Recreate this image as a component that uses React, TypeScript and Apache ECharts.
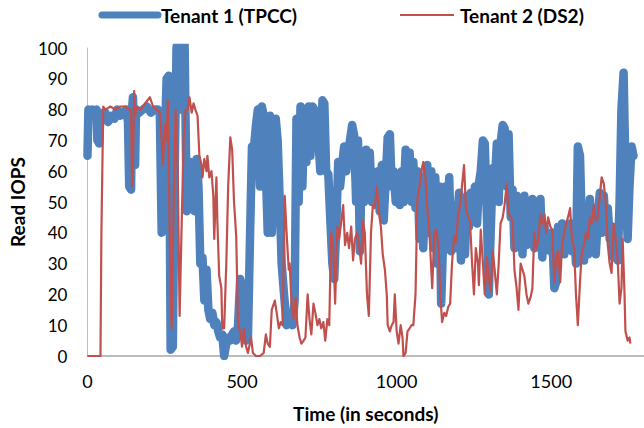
import React, { useEffect, useRef } from "react";
import * as echarts from "echarts";

const xTicks = [0, 500, 1000, 1500];
const yTicks = [0, 10, 20, 30, 40, 50, 60, 70, 80, 90, 100];
const seriesNames = ["Tenant 1 (TPCC)", "Tenant 2 (DS2)"];

const t1Time = [0,3,10,16,22,29,32,38,42,51,58,67,77,87,96,106,115,125,131,135,141,144,147,154,157,167,179,192,205,218,228,234,240,247,250,256,263,266,269,276,282,288,295,301,308,314,321,327,333,340,346,353,359,365,372,378,385,391,397,404,410,417,423,429,436,442,449,455,462,468,474,481,487,494,500,506,513,519,526,532,538,545,551,558,564,570,577,583,590,596,603,609,615,622,628,635,644,654,663,670,676,683,689,695,702,708,715,721,728,734,740,747,753,760,766,772,779,785,792,798,804,811,817,824,830,837,843,849,856,862,869,875,881,888,894,901,907,913,920,926,933,939,945,952,958,965,971,978,984,990,997,1003,1010,1016,1022,1029,1035,1042,1048,1054,1061,1067,1074,1080,1086,1093,1099,1106,1112,1119,1125,1131,1138,1144,1151,1157,1163,1170,1176,1183,1189,1195,1202,1208,1215,1221,1228,1234,1240,1247,1253,1260,1266,1272,1279,1285,1292,1298,1304,1311,1317,1324,1330,1336,1343,1349,1356,1362,1369,1375,1381,1388,1394,1401,1407,1413,1420,1426,1433,1439,1445,1452,1458,1465,1471,1478,1484,1490,1497,1503,1510,1516,1522,1529,1535,1542,1548,1554,1561,1567,1574,1580,1586,1593,1599,1606,1612,1619,1625,1631,1638,1644,1651,1657,1663,1670,1676,1683,1689,1695,1702,1708,1715,1721,1727,1734,1740,1747,1753,1760,1766];
const t1Iops = [65,80,78,80,79,80,70,69,79,77,79,76,78,77,80,78,79,80,76,55,54,80,84,62,80,79,80,81,79,80,80,79,40,42,70,90,91,50,2,3,60,100,104,80,105,102,47,50,63,62,47,64,55,30,32,18,28,15,12,14,10,11,8,6,7,0,4,6,5,7,8,5,10,25,22,8,5,6,40,68,67,75,80,55,81,78,60,40,78,40,60,77,70,50,30,21,10,12,10,18,77,50,81,55,80,63,81,65,81,80,72,70,60,83,82,60,59,45,30,25,40,63,55,62,68,60,66,70,75,72,50,70,34,65,50,67,52,66,50,58,52,60,47,62,44,58,71,72,55,60,50,58,49,60,50,67,52,66,50,63,48,60,38,58,35,55,62,40,60,35,58,30,55,17,40,55,35,58,34,45,35,44,53,31,50,33,52,42,53,44,55,43,56,60,70,69,45,20,40,61,55,69,50,69,75,74,55,72,45,54,35,52,38,50,33,52,36,48,40,51,35,50,38,51,32,42,35,40,34,40,22,24,42,35,43,33,42,35,43,34,42,30,68,65,42,31,42,33,51,40,48,33,45,53,40,52,42,48,38,42,32,40,31,50,80,92,60,38,55,68,65];

const t2Time = [0,42,45,51,58,74,90,106,122,135,141,144,147,151,154,160,173,186,202,212,224,234,240,244,250,256,260,266,272,279,285,292,298,304,311,317,324,330,337,343,349,356,362,369,372,378,385,388,394,401,407,410,417,420,426,433,436,442,449,455,462,468,474,481,487,494,500,506,513,519,529,535,545,558,570,577,583,590,596,606,612,619,625,631,638,644,651,654,660,667,673,679,686,692,699,705,712,718,724,731,737,744,750,756,763,769,776,782,788,795,801,808,814,820,827,833,840,846,853,859,865,872,878,885,891,897,904,910,917,923,929,936,942,949,955,962,968,971,978,984,990,994,1000,1006,1013,1019,1022,1029,1035,1042,1048,1054,1061,1067,1074,1080,1086,1093,1099,1106,1112,1115,1122,1128,1135,1141,1147,1154,1160,1167,1173,1179,1186,1192,1199,1205,1211,1218,1224,1231,1237,1244,1250,1256,1263,1266,1272,1279,1285,1292,1298,1304,1311,1317,1324,1330,1336,1343,1349,1356,1362,1369,1375,1381,1388,1394,1401,1407,1413,1420,1426,1433,1439,1445,1452,1458,1465,1471,1478,1484,1490,1497,1503,1510,1516,1522,1529,1535,1542,1548,1554,1561,1567,1574,1580,1586,1593,1599,1606,1612,1619,1625,1631,1638,1644,1651,1657,1663,1670,1676,1683,1689,1695,1702,1708,1715,1721,1727,1731,1737,1740,1747,1753,1756];
const t2Iops = [0,0,40,81,80,81,80,81,81,80,80,55,60,86,78,81,80,82,84,81,80,79,70,62,75,70,83,40,9,50,80,60,13,40,70,80,80,84,79,82,80,78,65,62,58,64,60,65,58,60,52,38,58,44,26,22,9,9,30,55,71,67,50,39,10,8,3,9,3,1,6,1,0,0,1,7,4,3,15,18,14,9,11,10,52,40,28,30,17,12,19,10,6,4,5,6,20,12,7,17,14,10,12,9,11,5,12,10,40,35,17,42,38,43,49,36,40,35,42,31,38,40,36,30,44,40,20,13,40,49,48,55,47,42,33,28,20,10,8,10,11,20,8,4,10,6,0,1,8,9,10,10,20,51,55,60,63,58,48,40,28,22,40,41,36,20,11,14,13,16,17,30,39,37,46,49,55,62,48,45,44,30,20,35,30,23,41,30,20,32,25,21,34,28,20,30,43,45,49,56,46,45,44,28,22,15,30,28,26,20,17,19,22,40,35,38,46,43,46,40,45,42,41,24,32,34,24,36,40,43,45,48,38,35,20,10,24,34,36,40,38,45,43,49,44,45,52,58,56,50,36,30,27,43,38,31,17,22,38,20,8,5,6,4];

const zip = (a: number[], b: number[]) => a.map((t, i) => [t, b[i]]);

export default function App() {
  const ref = useRef<HTMLDivElement>(null);
  useEffect(() => {
    if (!ref.current) return;
    const chart = echarts.init(ref.current, undefined, { renderer: "svg" });
    const font = "Lato";
    chart.setOption({
      animation: false,
      textStyle: { fontFamily: font },
      grid: { left: 82, right: 0, top: 48, bottom: 67, containLabel: false },
      graphic: [
        { type: "line", shape: { x1: 102, y1: 15, x2: 158, y2: 15 }, style: { stroke: "#4F81BD", lineWidth: 7, lineCap: "round" } },
        { type: "text", x: 161, y: 15, style: { text: seriesNames[0], font: `bold 19px ${font}`, fill: "#000", verticalAlign: "middle", align: "left" } },
        { type: "line", shape: { x1: 400, y1: 15, x2: 454, y2: 15 }, style: { stroke: "#C0504D", lineWidth: 2 } },
        { type: "text", x: 460, y: 15, style: { text: seriesNames[1], font: `bold 19px ${font}`, fill: "#000", verticalAlign: "middle", align: "left" } },
      ],
      xAxis: {
        type: "value",
        min: 0,
        max: 1800,
        interval: 500,
        name: "Time (in seconds)",
        nameLocation: "middle",
        nameGap: 48,
        nameTextStyle: { fontFamily: font, fontWeight: "bold", fontSize: 19, color: "#000" },
        axisLine: { show: true, lineStyle: { color: "#A6A6A6", width: 1.5 } },
        axisTick: { show: false },
        splitLine: { show: false },
        axisLabel: {
          fontFamily: font, fontSize: 18, color: "#000", margin: 16, showMaxLabel: false,
          formatter: (v: number) => (xTicks.includes(v) ? String(v) : ""),
        },
      },
      yAxis: {
        type: "value",
        min: 0,
        max: 100,
        interval: 10,
        name: "Read IOPS",
        nameLocation: "middle",
        nameGap: 60,
        nameRotate: 90,
        nameTextStyle: { fontFamily: font, fontWeight: "bold", fontSize: 19, color: "#000" },
        axisLine: { show: true, lineStyle: { color: "#BFBFBF", width: 1 } },
        axisTick: { show: false },
        splitLine: { show: false },
        axisLabel: {
          fontFamily: font, fontSize: 17, color: "#000", margin: 20,
          formatter: (v: number) => (yTicks.includes(v) ? String(v) : ""),
        },
      },
      series: [
        {
          name: seriesNames[0],
          type: "line",
          data: zip(t1Time, t1Iops),
          showSymbol: false,
          clip: true,
          lineStyle: { color: "#4F81BD", width: 8.5, cap: "round", join: "round" },
          itemStyle: { color: "#4F81BD" },
        },
        {
          name: seriesNames[1],
          type: "line",
          data: zip(t2Time, t2Iops),
          showSymbol: false,
          clip: true,
          lineStyle: { color: "#C0504D", width: 2.2, join: "round" },
          itemStyle: { color: "#C0504D" },
        },
      ],
    });
    return () => chart.dispose();
  }, []);
  return <div ref={ref} style={{ position: "absolute", left: 0, top: 0, width: 644, height: 428 }} />;
}
